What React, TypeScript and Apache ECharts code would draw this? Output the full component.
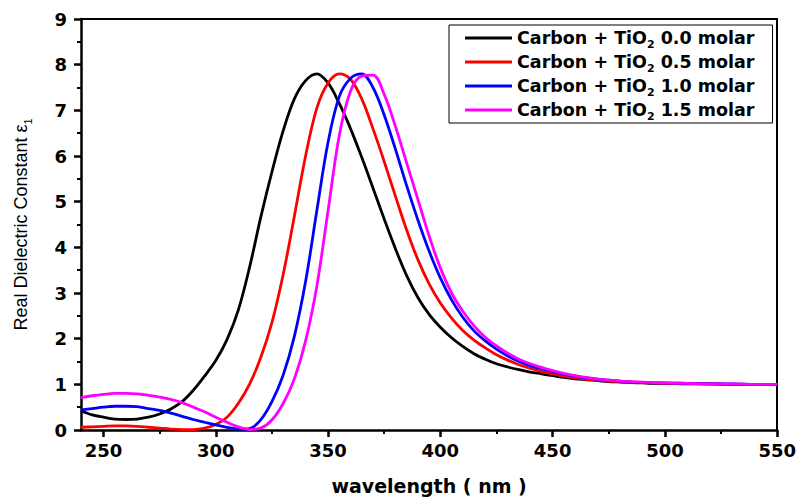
import React, { useEffect, useRef } from "react";
import * as echarts from "echarts";

const wavelengths = [
  240, 245, 250, 255, 260, 265, 270, 275, 280, 285, 290, 295, 300, 305, 310, 315, 320, 325, 330, 335,
  340, 345, 350, 355, 360, 365, 370, 375, 380, 385, 390, 395, 400, 405, 410, 415, 420, 425, 430, 435,
  440, 445, 450, 455, 460, 465, 470, 475, 480, 485, 490, 495, 500, 510, 520, 530, 540, 550,
];

const carbon00 = [
  0.42, 0.33, 0.28, 0.24, 0.23, 0.24, 0.28, 0.35, 0.46, 0.62, 0.87, 1.18, 1.52, 1.98, 2.62, 3.55, 4.65, 5.65, 6.55, 7.25,
  7.65, 7.8, 7.6, 7.15, 6.6, 5.97, 5.3, 4.62, 3.97, 3.38, 2.9, 2.53, 2.25, 2.02, 1.83, 1.67, 1.55, 1.45, 1.38, 1.32,
  1.27, 1.23, 1.19, 1.15, 1.12, 1.1, 1.08, 1.06, 1.05, 1.04, 1.03, 1.02, 1.02, 1.01, 1.01, 1.0, 1.0, 1.0,
];

const carbon05 = [
  0.06, 0.07, 0.08, 0.09, 0.09, 0.08, 0.06, 0.04, 0.02, 0.01, 0.01, 0.04, 0.12, 0.28, 0.58, 1.0, 1.58, 2.35, 3.4, 4.68,
  6.0, 7.05, 7.6, 7.8, 7.68, 7.25, 6.6, 5.88, 5.12, 4.38, 3.73, 3.2, 2.78, 2.45, 2.18, 1.97, 1.8, 1.65, 1.53, 1.43,
  1.35, 1.28, 1.23, 1.18, 1.14, 1.11, 1.09, 1.07, 1.06, 1.05, 1.04, 1.03, 1.02, 1.02, 1.01, 1.0, 1.0, 1.0,
];

const carbon10 = [
  0.44, 0.47, 0.5, 0.52, 0.52, 0.51, 0.47, 0.43, 0.37, 0.3, 0.23, 0.17, 0.11, 0.06, 0.02, 0.03, 0.22, 0.62, 1.2, 2.05,
  3.25, 4.8, 6.3, 7.3, 7.7, 7.8, 7.5, 6.9, 6.15, 5.35, 4.6, 3.92, 3.33, 2.85, 2.47, 2.17, 1.95, 1.77, 1.62, 1.5,
  1.41, 1.34, 1.28, 1.22, 1.18, 1.14, 1.11, 1.09, 1.07, 1.05, 1.04, 1.03, 1.03, 1.02, 1.01, 1.01, 1.0, 1.0,
];

const carbon15 = [
  0.71, 0.75, 0.78, 0.8, 0.8, 0.79, 0.76, 0.72, 0.67, 0.6, 0.5, 0.4, 0.28, 0.17, 0.07, 0.01, 0.04, 0.22, 0.58, 1.12,
  1.95, 3.15, 4.8, 6.45, 7.42, 7.75, 7.77, 7.35, 6.65, 5.85, 5.05, 4.25, 3.55, 3.0, 2.6, 2.28, 2.03, 1.84, 1.68, 1.55,
  1.45, 1.37, 1.3, 1.24, 1.19, 1.15, 1.12, 1.09, 1.07, 1.06, 1.05, 1.04, 1.03, 1.02, 1.01, 1.01, 1.0, 1.0,
];

const seriesNames = [
  "Carbon + TiO2 0.0 molar",
  "Carbon + TiO2 0.5 molar",
  "Carbon + TiO2 1.0 molar",
  "Carbon + TiO2 1.5 molar",
];
const seriesColors = ["#000000", "#ff0000", "#0000ff", "#ff00ff"];
const seriesValues = [carbon00, carbon05, carbon10, carbon15];

const xMajorTicks = [250, 300, 350, 400, 450, 500, 550];
const xMinorTicks = [275, 325, 375, 425, 475, 525];

const xTitle = "wavelength ( nm )";
const yTitle = "Real Dielectric Constant ε{s|1}";

export default function App() {
  const ref = useRef<HTMLDivElement>(null);

  useEffect(() => {
    if (!ref.current) return;
    const chart = echarts.init(ref.current, null, { renderer: "svg" });
    const tickFont = { fontFamily: "DejaVu Sans", fontWeight: "bold" as const, fontSize: 18, color: "#000" };
    const option: any = {
      animation: false,
      backgroundColor: "#ffffff",
      grid: { left: 81, right: 20, top: 19, bottom: 70, containLabel: false },
      legend: {
        orient: "vertical",
        left: 449,
        top: 25,
        padding: [1, 18, 1, 16],
        borderColor: "#000",
        borderWidth: 1,
        backgroundColor: "#fff",
        itemWidth: 47,
        itemHeight: 3,
        itemGap: 0,
        icon: "rect",
        data: seriesNames,
        formatter: (name: string) => name.replace("TiO2", "TiO{s|2}"),
        textStyle: {
          fontFamily: "DejaVu Sans",
          fontWeight: "bold",
          fontSize: 17.5,
          lineHeight: 24,
          color: "#000",
          rich: {
            s: { fontFamily: "DejaVu Sans", fontWeight: "bold", fontSize: 11, lineHeight: 12, verticalAlign: "bottom", color: "#000" },
          },
        },
      },
      xAxis: [
        {
          type: "value",
          min: 240,
          max: 550,
          position: "bottom",
          name: xTitle,
          nameLocation: "middle",
          nameGap: 46,
          nameTextStyle: { fontFamily: "DejaVu Sans", fontWeight: "bold", fontSize: 19, color: "#000" },
          axisLine: { show: true, onZero: false, lineStyle: { color: "#000", width: 2.5 } },
          axisTick: { show: true, inside: false, length: 7, customValues: xMajorTicks, lineStyle: { color: "#000", width: 2.5 } },
          axisLabel: { ...tickFont, margin: 11, customValues: xMajorTicks },
          splitLine: { show: false },
        },
        {
          type: "value",
          min: 240,
          max: 550,
          position: "bottom",
          axisLine: { show: false, onZero: false },
          axisTick: { show: true, inside: false, length: 4, customValues: xMinorTicks, lineStyle: { color: "#000", width: 2 } },
          axisLabel: { show: false },
          splitLine: { show: false },
        },
        {
          type: "value",
          min: 240,
          max: 550,
          position: "top",
          axisLine: { show: true, onZero: false, lineStyle: { color: "#000", width: 2 } },
          axisTick: { show: false },
          axisLabel: { show: false },
          splitLine: { show: false },
        },
      ],
      yAxis: [
        {
          type: "value",
          min: 0,
          max: 9,
          interval: 1,
          position: "left",
          name: yTitle,
          nameLocation: "middle",
          nameGap: 48,
          nameRotate: 90,
          nameTextStyle: {
            fontFamily: "Liberation Sans",
            fontSize: 18,
            lineHeight: 24,
            color: "#000",
            rich: { s: { fontFamily: "Liberation Sans", fontSize: 11, lineHeight: 12, verticalAlign: "bottom", color: "#000" } },
          },
          axisLine: { show: true, onZero: false, lineStyle: { color: "#000", width: 2.5 } },
          axisTick: { show: true, inside: false, length: 7, lineStyle: { color: "#000", width: 2.5 } },
          minorTick: { show: true, splitNumber: 2, length: 4, lineStyle: { color: "#000", width: 2 } },
          axisLabel: { ...tickFont, margin: 14 },
          splitLine: { show: false },
          minorSplitLine: { show: false },
        },
        {
          type: "value",
          min: 0,
          max: 9,
          interval: 1,
          position: "right",
          axisLine: { show: true, onZero: false, lineStyle: { color: "#000", width: 2 } },
          axisTick: { show: false },
          axisLabel: { show: false },
          splitLine: { show: false },
        },
      ],
      series: seriesNames.map((name, i) => ({
        name,
        type: "line",
        xAxisIndex: 0,
        yAxisIndex: 0,
        showSymbol: false,
        smooth: 0.35,
        color: seriesColors[i],
        lineStyle: { color: seriesColors[i], width: 2.8 },
        data: wavelengths.map((w, k) => [w, seriesValues[i][k]]),
      })),
    };
    chart.setOption(option);
    return () => chart.dispose();
  }, []);

  return <div ref={ref} style={{ position: "fixed", left: 0, top: 0, width: 799, height: 500 }} />;
}
